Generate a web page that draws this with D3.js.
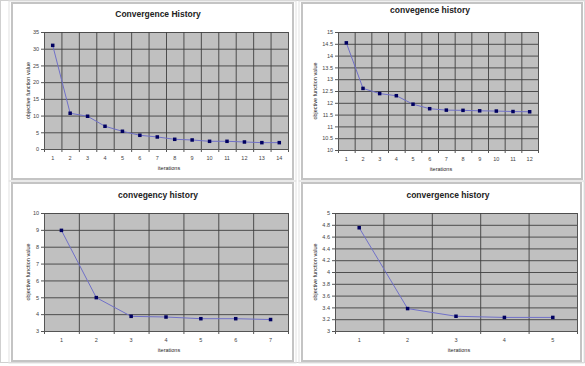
<!DOCTYPE html>
<html>
<head>
<meta charset="utf-8">
<script src="https://cdn.jsdelivr.net/npm/d3@7"></script>
<style>
  body { margin: 0; background: #fff; }
  svg { font-family: "Liberation Sans", Arial, sans-serif; }
  .tick text { fill: #444; }
</style>
</head>
<body>
<div id="chart"></div>
<script>
// data
const titles = ["Convergence History", "convegence history", "convegency history", "convergence history"];

const iters1 = ["1", "2", "3", "4", "5", "6", "7", "8", "9", "10", "11", "12", "13", "14"];
const values1 = [31.0, 10.7, 9.8, 6.8, 5.3, 4.1, 3.6, 2.9, 2.7, 2.3, 2.3, 2.1, 1.9, 1.9];
const yTicks1 = [0, 5, 10, 15, 20, 25, 30, 35];

const iters2 = ["1", "2", "3", "4", "5", "6", "7", "8", "9", "10", "11", "12"];
const values2 = [14.54, 12.61, 12.39, 12.3, 11.94, 11.75, 11.69, 11.68, 11.66, 11.65, 11.63, 11.62];
const yTicks2 = [10, 10.5, 11, 11.5, 12, 12.5, 13, 13.5, 14, 14.5, 15];

const iters3 = ["1", "2", "3", "4", "5", "6", "7"];
const values3 = [8.97, 4.98, 3.87, 3.83, 3.73, 3.73, 3.68];
const yTicks3 = [3, 4, 5, 6, 7, 8, 9, 10];

const iters4 = ["1", "2", "3", "4", "5"];
const values4 = [4.75, 3.38, 3.25, 3.23, 3.23];
const yTicks4 = [3, 3.2, 3.4, 3.6, 3.8, 4, 4.2, 4.4, 4.6, 4.8, 5];

const yLabel = "objective function value";
const xLabel = "iterations";

const svgWidth = 585;
const svgHeight = 366;

// where each chart sits on the sheet
const layout = [
  { box: [12, 3, 281, 176], plot: [44, 32, 244, 117], titleY: 17, yTitleX: 28 },
  { box: [302, 3, 280, 176], plot: [338, 32, 200, 118], titleY: 13, yTitleX: 315 },
  { box: [12, 183, 281, 178], plot: [44, 213, 244, 118], titleY: 198, yTitleX: 28 },
  { box: [302, 183, 279, 178], plot: [335, 213, 242, 118], titleY: 198, yTitleX: 315 }
];

const series = [
  { cats: iters1, vals: values1, ticks: yTicks1 },
  { cats: iters2, vals: values2, ticks: yTicks2 },
  { cats: iters3, vals: values3, ticks: yTicks3 },
  { cats: iters4, vals: values4, ticks: yTicks4 }
];

const svg = d3.select("#chart")
  .append("svg")
  .attr("width", svgWidth)
  .attr("height", svgHeight);

svg.append("rect")
  .attr("x", 0.5).attr("y", 0.5)
  .attr("width", svgWidth - 1).attr("height", svgHeight - 4)
  .attr("fill", "none")
  .attr("stroke", "#d0d0d0");

series.forEach((s, i) => {
  const L = layout[i];
  const [bx, by, bw, bh] = L.box;
  const [px, py, pw, ph] = L.plot;

  // chart frame (double grey line like the sheet)
  svg.append("rect")
    .attr("x", bx).attr("y", by).attr("width", bw).attr("height", bh)
    .attr("fill", "#fff").attr("stroke", "#c4c4c4").attr("stroke-width", 2);
  svg.append("rect")
    .attr("x", bx - 3).attr("y", by - 2).attr("width", bw + 6).attr("height", bh + 4)
    .attr("fill", "none").attr("stroke", "#e2e2e2").attr("stroke-width", 1);

  const x = d3.scaleBand().domain(s.cats).range([0, pw]);
  const xEdge = d3.scaleLinear().domain([0, s.cats.length]).range([0, pw]);
  const y = d3.scaleLinear()
    .domain([s.ticks[0], s.ticks[s.ticks.length - 1]])
    .range([ph, 0]);

  const g = svg.append("g").attr("transform", `translate(${px}, ${py})`);

  g.append("rect")
    .attr("width", pw).attr("height", ph)
    .attr("fill", "#c0c0c0");

  // horizontal gridlines
  g.append("g")
    .call(d3.axisLeft(y).tickValues(s.ticks).tickSize(-pw).tickFormat(""))
    .call(a => a.select(".domain").remove())
    .call(a => a.selectAll("line").attr("stroke", "#404040").attr("stroke-width", 0.9));

  // vertical gridlines between categories
  const edges = d3.range(0, s.cats.length + 1);
  g.append("g")
    .attr("transform", `translate(0, ${ph})`)
    .call(d3.axisBottom(xEdge).tickValues(edges).tickSize(-ph).tickFormat(""))
    .call(a => a.select(".domain").remove())
    .call(a => a.selectAll("line").attr("stroke", "#404040").attr("stroke-width", 0.9));

  // y axis
  g.append("g")
    .call(d3.axisLeft(y).tickValues(s.ticks).tickSize(3).tickPadding(2).tickFormat(d3.format("~g")))
    .call(a => a.select(".domain").attr("stroke", "#555"))
    .call(a => a.selectAll("line").attr("stroke", "#555"))
    .call(a => a.selectAll("text").attr("font-size", 5.5));

  // x axis: ticks on edges, labels centred
  g.append("g")
    .attr("transform", `translate(0, ${ph})`)
    .call(d3.axisBottom(xEdge).tickValues(edges).tickSize(3).tickFormat(""))
    .call(a => a.select(".domain").attr("stroke", "#555"))
    .call(a => a.selectAll("line").attr("stroke", "#555"));
  g.append("g")
    .attr("transform", `translate(0, ${ph})`)
    .call(d3.axisBottom(x).tickSize(0).tickPadding(7))
    .call(a => a.select(".domain").remove())
    .call(a => a.selectAll("text").attr("font-size", 5.5));

  // series line + markers
  const line = d3.line()
    .x((d, j) => x(s.cats[j]) + x.bandwidth() / 2)
    .y(d => y(d));

  g.append("path")
    .datum(s.vals)
    .attr("d", line)
    .attr("fill", "none")
    .attr("stroke", "#7070c8")
    .attr("stroke-width", 1);

  g.selectAll("rect.pt")
    .data(s.vals)
    .enter()
    .append("rect")
    .attr("class", "pt")
    .attr("x", (d, j) => x(s.cats[j]) + x.bandwidth() / 2 - 1.75)
    .attr("y", d => y(d) - 1.75)
    .attr("width", 3.5).attr("height", 3.5)
    .attr("fill", "#000060");

  // titles
  svg.append("text")
    .attr("x", px + pw / 2 - 8)
    .attr("y", L.titleY)
    .attr("text-anchor", "middle")
    .attr("font-size", 8.5)
    .attr("font-weight", "bold")
    .attr("fill", "#222")
    .text(titles[i]);

  svg.append("text")
    .attr("transform", `translate(${L.yTitleX + 2}, ${py + ph / 2}) rotate(-90)`)
    .attr("text-anchor", "middle")
    .attr("font-size", 5.5)
    .attr("fill", "#222")
    .text(yLabel);

  svg.append("text")
    .attr("x", px + pw / 2 + 3)
    .attr("y", py + ph + 21)
    .attr("text-anchor", "middle")
    .attr("font-size", 5.5)
    .attr("fill", "#222")
    .text(xLabel);
});
</script>
</body>
</html>
